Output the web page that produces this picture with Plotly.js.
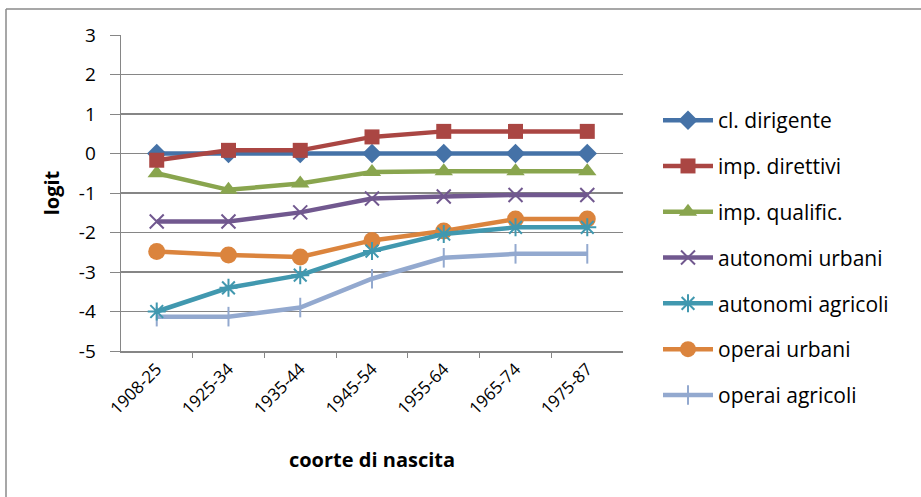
<!DOCTYPE html>
<html>
<head>
<meta charset="utf-8">
<script src="https://cdn.plot.ly/plotly-3.0.1.min.js"></script>
<style>html,body{margin:0;padding:0;background:#fff}#chart{width:921px;height:497px}</style>
</head>
<body>
<div id="chart"></div>
<script>
const categories = ["1908-25","1925-34","1935-44","1945-54","1955-64","1965-74","1975-87"];
const seriesNames = ["cl. dirigente","imp. direttivi","imp. qualific.","autonomi urbani","autonomi agricoli","operai urbani","operai agricoli"];
const clDirigente      = [0, 0, 0, 0, 0, 0, 0];
const impDirettivi     = [-0.17, 0.08, 0.08, 0.42, 0.56, 0.56, 0.56];
const impQualific      = [-0.5, -0.92, -0.76, -0.47, -0.45, -0.45, -0.45];
const autonomiUrbani   = [-1.72, -1.72, -1.49, -1.14, -1.09, -1.05, -1.05];
const autonomiAgricoli = [-4.0, -3.4, -3.08, -2.47, -2.04, -1.87, -1.87];
const operaiUrbani     = [-2.48, -2.57, -2.62, -2.2, -1.96, -1.66, -1.66];
const operaiAgricoli   = [-4.13, -4.13, -3.9, -3.17, -2.64, -2.54, -2.54];
const yTicks = [-5,-4,-3,-2,-1,0,1,2,3];

const values = [clDirigente, impDirettivi, impQualific, autonomiUrbani, autonomiAgricoli, operaiUrbani, operaiAgricoli];
const colors = ["#4572A7","#AA4643","#89A54E","#71588F","#4198AF","#DB843D","#93A9CF"];
const markers = [
  {symbol:"diamond", size:15},
  {symbol:"square", size:15},
  {symbol:"triangle-up", size:16},
  {symbol:"x-thin-open", size:14, line:{width:2}},
  {symbol:"asterisk-open", size:15, line:{width:2}},
  {symbol:"circle", size:17},
  {symbol:"line-ns-open", size:14, line:{width:2}}
];
const drawOrder = [6,5,4,3,2,0,1];
const traces = drawOrder.map(i => {
  const m = Object.assign({color: colors[i]}, markers[i]);
  if (m.line) m.line = Object.assign({color: colors[i]}, m.line);
  return {
    type: "scatter", mode: "lines+markers",
    x: categories, y: values[i], name: seriesNames[i],
    legendgroup: "g" + i, legendrank: i + 1,
    line: {color: colors[i], width: 4.5},
    marker: m
  };
});

const L = 121, R = 623, T = 35, B = 351;
const px = v => (v - L) / (R - L);
const py = v => (B - v) / (B - T);
const fontFam = "'Open Sans', sans-serif";

const layout = {
  width: 921, height: 497,
  margin: {l: L, r: 921 - R, t: T, b: 497 - B, pad: 0},
  paper_bgcolor: "#fff", plot_bgcolor: "#fff",
  font: {family: fontFam, size: 18, color: "#000"},
  showlegend: true,
  legend: {
    x: px(658), xanchor: "left",
    y: py(100), yanchor: "top",
    maxheight: 400,
    font: {family: fontFam, size: 21, color: "#000"},
    tracegroupgap: 15.5, itemwidth: 50, traceorder: "grouped",
    bgcolor: "rgba(0,0,0,0)"
  },
  xaxis: {
    type: "category", categoryorder: "array", categoryarray: categories,
    tickangle: -45, ticks: "outside", ticklen: 5, tickcolor: "#868686",
    tickson: "boundaries",
    showline: true, linecolor: "#868686", linewidth: 1.5,
    showgrid: false, zeroline: false,
    tickfont: {family: fontFam, size: 17, color: "#000"},
    title: {text: "<b>coorte di nascita</b>", font: {family: fontFam, size: 20, color: "#000"}, standoff: 35}
  },
  yaxis: {
    range: [-5, 3], tickvals: yTicks, ticktext: yTicks.map(v => String(v) + "\u00a0\u00a0"),
    ticks: "outside", ticklen: 10, tickcolor: "#868686",
    showline: true, linecolor: "#868686", linewidth: 1.5,
    showgrid: true, gridcolor: "#868686", gridwidth: 1.5,
    zeroline: false,
    tickfont: {family: fontFam, size: 19, color: "#000"},
    title: {text: "<b>logit</b>", font: {family: fontFam, size: 20, color: "#000"}, standoff: 14}
  },
  shapes: [
    {type: "line", xref: "paper", yref: "paper", x0: px(6), x1: px(921), y0: py(9), y1: py(9), line: {color: "#8a8a8a", width: 1.5}},
    {type: "line", xref: "paper", yref: "paper", x0: px(6), x1: px(6), y0: py(9), y1: py(497), line: {color: "#8a8a8a", width: 1.5}}
  ]
};

Plotly.newPlot("chart", traces, layout, {displayModeBar: false, staticPlot: true});
</script>
</body>
</html>
